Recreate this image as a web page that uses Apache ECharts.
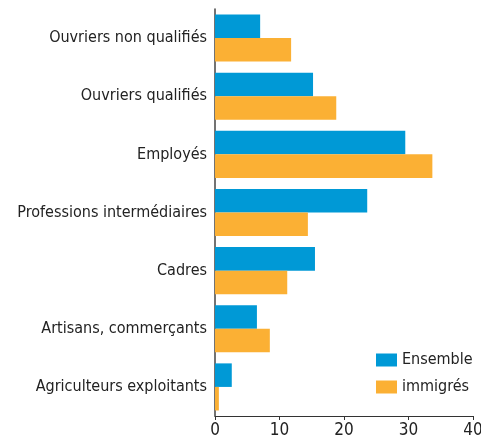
<!DOCTYPE html>
<html>
<head>
<meta charset="utf-8">
<script src="https://cdn.jsdelivr.net/npm/echarts@6/dist/echarts.min.js"></script>
<style>
  html, body { margin: 0; padding: 0; background: #fff; }
  #chart { width: 481px; height: 443px; }
</style>
</head>
<body>
<div id="chart"></div>
<script>
const categories = ['Ouvriers non qualifiés', 'Ouvriers qualifiés', 'Employés', 'Professions intermédiaires', 'Cadres', 'Artisans, commerçants', 'Agriculteurs exploitants']
const ensemble = [7.0, 15.2, 29.5, 23.6, 15.5, 6.5, 2.6]
const immigres = [11.8, 18.8, 33.7, 14.4, 11.2, 8.5, 0.6]
const xTicks = [0, 10, 20, 30, 40]

const font = '"DejaVu Sans Condensed", "DejaVu Sans", sans-serif'
const textColor = '#222'

const chart = echarts.init(document.getElementById('chart'))
chart.setOption({
  animation: false,
  textStyle: { fontFamily: font },
  grid: { left: 215, right: 8, top: 9, bottom: 27, containLabel: false, outerBoundsMode: 'none' },
  legend: {
    orient: 'vertical',
    left: 376,
    top: 352,
    padding: 0,
    itemWidth: 21,
    itemHeight: 13,
    itemGap: 11,
    icon: 'rect',
    textStyle: { fontFamily: font, fontSize: 16, color: textColor },
    data: ['Ensemble', 'immigrés']
  },
  xAxis: {
    type: 'value',
    min: xTicks[0],
    max: xTicks[xTicks.length - 1],
    interval: 10,
    axisLine: { show: true, lineStyle: { color: '#333', width: 1 } },
    axisTick: { show: true, length: 4, lineStyle: { color: '#333' } },
    splitLine: { show: false },
    axisLabel: { fontFamily: font, fontSize: 17, color: textColor, margin: 6 }
  },
  yAxis: {
    type: 'category',
    inverse: true,
    data: categories,
    axisLine: { show: true, lineStyle: { color: '#444', width: 1.5 } },
    axisTick: { show: false },
    axisLabel: { fontFamily: font, fontSize: 16, color: textColor, margin: 8 }
  },
  series: [
    {
      name: 'Ensemble',
      type: 'bar',
      data: ensemble,
      barGap: '0%',
      barCategoryGap: '19%',
      itemStyle: { color: '#0099D6' }
    },
    {
      name: 'immigrés',
      type: 'bar',
      data: immigres,
      itemStyle: { color: '#FBB034' }
    }
  ]
})
</script>
</body>
</html>
